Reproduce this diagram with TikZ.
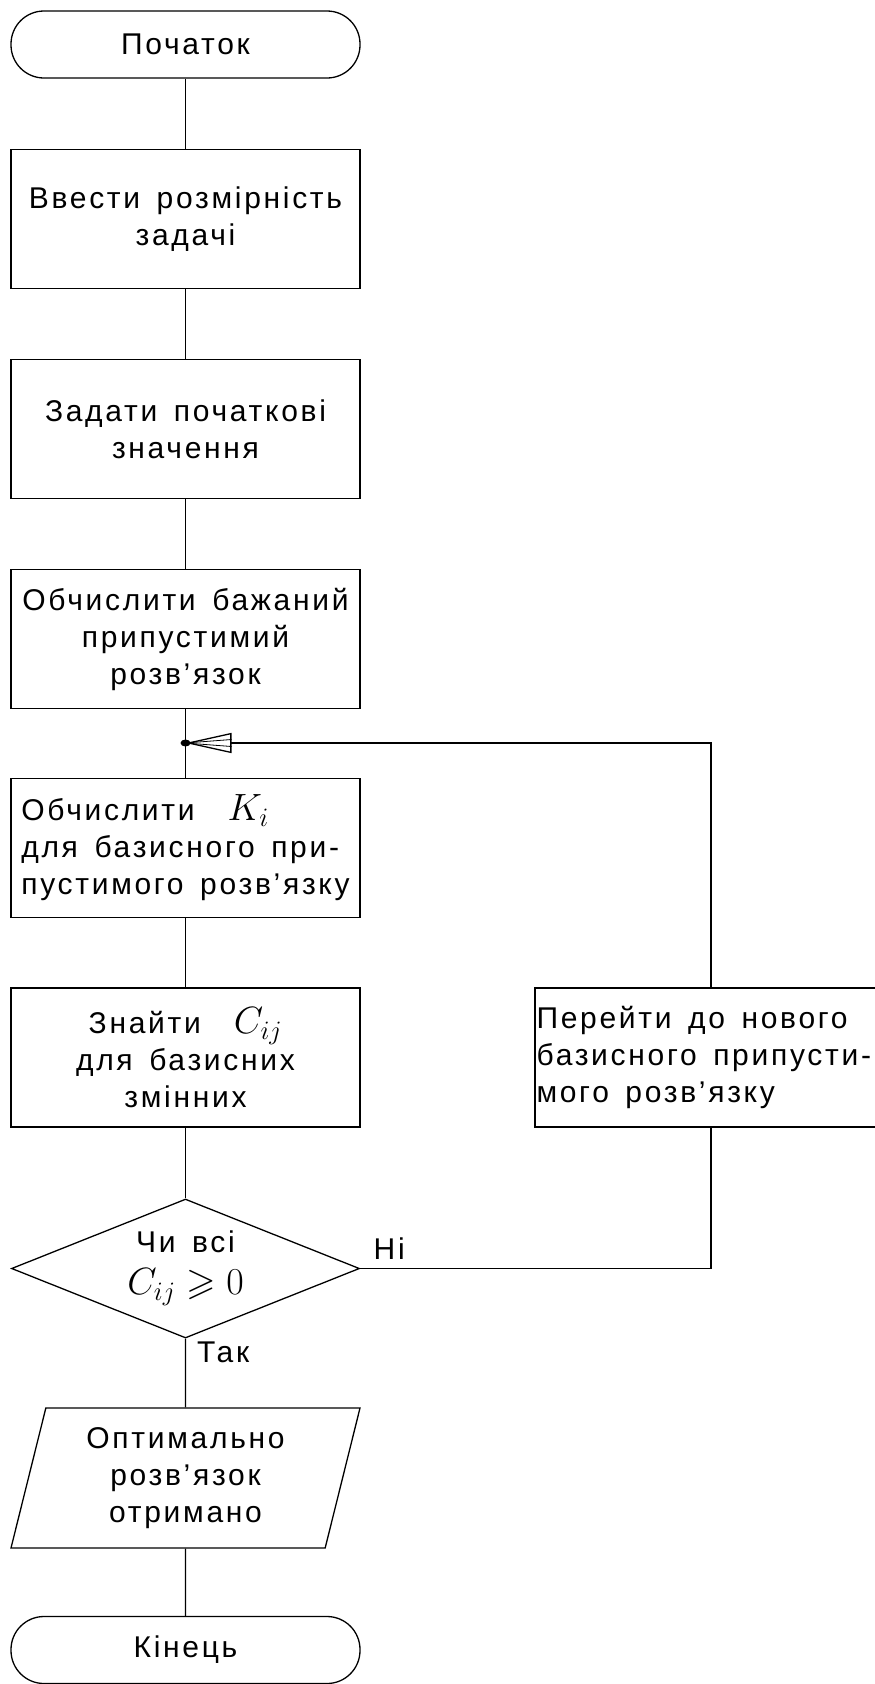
\RequirePackage{fix-cm}
\documentclass[tikz,border=0pt]{standalone}
\usepackage{amsmath,amssymb}
\usepackage{fontspec}
\setmainfont{Liberation Sans}[LetterSpace=9,WordSpace=1.5]
\usetikzlibrary{arrows.meta,shapes.geometric}
\newcommand{\fmath}[1]{{\fontsize{38}{37}\selectfont$#1$}}
\tikzset{
  ln/.style={line width=1.3pt},
  blk/.style={draw,ln,minimum width=349pt,minimum height=139pt,align=center,inner sep=0pt},
  term/.style={draw,ln,rounded corners=33pt,minimum width=349pt,minimum height=67pt,inner sep=0pt},
  dec/.style={draw,ln,diamond,aspect=2.5,minimum width=348pt,minimum height=139pt,align=center,inner sep=0pt},
  io/.style={draw,ln,trapezium,trapezium left angle=71,trapezium right angle=109,trapezium stretches body,
    minimum width=349pt,minimum height=140pt,align=center,inner sep=0pt},
  ar/.style={ln,-{Triangle[open,length=46pt,width=20pt]}}
}
\begin{document}
\begin{tikzpicture}[x=1pt,y=-1pt,every node/.style={font=\fontsize{30}{37}\selectfont}]
\useasboundingbox (0,0) rectangle (875,1684);
\def\cx{185.5}
\node[term] (start) at (\cx,44.5) {Початок};
\node[blk] (vvod) at (\cx,219) {Ввести розмірність\\задачі};
\node[blk] (init) at (\cx,429) {Задати початкові\\значення};
\node[blk] (bazh) at (\cx,639) {Обчислити бажаний\\припустимий\\розв'язок};
\coordinate (jn) at (\cx,743);
\node[blk,align=left] (ki) at (\cx,848) {Обчислити \ \fmath{K_i}\\для базисного при-\\пустимого розв'язку};
\node[blk] (cij) at (\cx,1057.5) {Знайти \ \fmath{C_{ij}}\\для базисних\\змінних};
\node[blk,minimum width=352pt] (nov) at (711,1057.5) {};
\node[anchor=west,align=left,inner xsep=2pt] (novtxt) at (nov.west) {Перейти до нового\\базисного припусти-\\мого розв'язку};
\node[dec] (chk) at (\cx,1268.5) {Чи всі\\[5pt]\fmath{C_{ij}\geqslant 0}};
\node[io] (opt) at (\cx,1478) {Оптимально\\розв'язок\\отримано};
\node[term] (fin) at (\cx,1650) {Кінець};

\draw[ln] (start) -- (vvod);
\draw[ln] (vvod) -- (init);
\draw[ln] (init) -- (bazh);
\draw[ln] (bazh) -- (ki);
\draw[ln] (ki) -- (cij);
\draw[ln] (cij) -- (chk);
\draw[ln] (chk) -- (opt);
\draw[ln] (opt) -- (fin);
\draw[ln] (chk.east) -| (nov.south);
\draw[ar] (nov.north) |- (jn);
% hatch inside the arrow head and the dot
\draw[line width=0.8pt] (jn) -- ++(46,-3.5) (jn) -- ++(46,3.5);
\fill (jn) circle[x radius=5pt,y radius=3.5pt];
\node[anchor=south west,xshift=10pt,yshift=5pt] at (chk.east) {Ні};
\node[anchor=north west,xshift=8pt] at (chk.south) {Так};
\end{tikzpicture}
\end{document}
